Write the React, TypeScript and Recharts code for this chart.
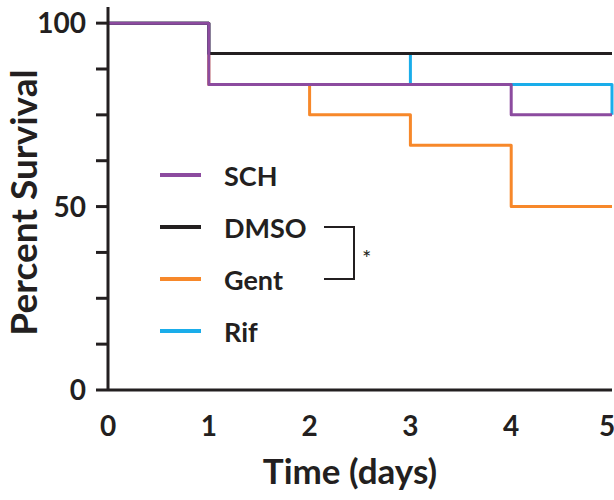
import { Line, LineChart, XAxis, YAxis } from 'recharts'

const days = [0, 1, 2, 3, 4, 5]
const sch = [100, 83.3, 83.3, 83.3, 75, 75]
const dmso = [100, 91.7, 91.7, 91.7, 91.7, 91.7]
const gent = [100, 83.3, 75, 66.7, 50, 50]
const rif = [100, 91.7, 91.7, 83.3, 83.3, 75]

const yTicks = [0, 12.5, 25, 37.5, 50, 62.5, 75, 87.5, 100]
const yLabelled = [0, 50, 100]

const INK = '#231f20'
const FONT = 'Lato, "Open Sans", sans-serif'

// legend order (top to bottom); draw order differs so purple sits on top
const legendItems = [
  { key: 'sch', name: 'SCH', color: '#8c4b9f' },
  { key: 'dmso', name: 'DMSO', color: INK },
  { key: 'gent', name: 'Gent', color: '#f7882a' },
  { key: 'rif', name: 'Rif', color: '#1aadea' },
]
const drawOrder = ['gent', 'rif', 'dmso', 'sch']

const data = days.map((d, i) => ({ day: d, sch: sch[i], dmso: dmso[i], gent: gent[i], rif: rif[i] }))

const ROW = 52

function SurvivalLegend() {
  // bracket joins the DMSO and Gent rows, with the significance star
  const yA = ROW * 1 + ROW / 2
  const yB = ROW * 2 + ROW / 2
  return (
    <div style={{ position: 'absolute', left: 160, top: 149, fontFamily: FONT }}>
      {legendItems.map((item) => (
        <div key={item.key} style={{ display: 'flex', alignItems: 'center', height: ROW }}>
          <div style={{ width: 41, height: 4, background: item.color, marginRight: 23 }} />
          <span style={{ fontSize: 27, fontWeight: 700, color: INK, lineHeight: 1 }}>{item.name}</span>
        </div>
      ))}
      <svg width={240} height={ROW * 4} style={{ position: 'absolute', left: 0, top: 0, overflow: 'visible' }}>
        <polyline
          points={`164,${yA} 194,${yA} 194,${yB} 164,${yB}`}
          fill="none"
          stroke={INK}
          strokeWidth={2}
        />
        <text x={202} y={yA + (yB - yA) / 2 + 13} fontSize={22} fill={INK} fontFamily={FONT}>
          *
        </text>
      </svg>
    </div>
  )
}

export default function App() {
  return (
    <div style={{ position: 'absolute', left: 0, top: 0, width: 614, height: 500, background: '#fff' }}>
      <LineChart width={614} height={500} data={data} margin={{ top: 7, right: 2, bottom: 0, left: 0 }}>
        <XAxis
          dataKey="day"
          type="number"
          domain={[0, 5]}
          ticks={days}
          height={110}
          tickLine={false}
          tickSize={0}
          tickMargin={26}
          axisLine={{ stroke: INK, strokeWidth: 3 }}
          tick={{ fill: INK, fontSize: 28, fontWeight: 700, fontFamily: FONT }}
          label={{
            content: ({ viewBox }: any) => (
              <text
                x={viewBox.x + viewBox.width / 2 - 10}
                y={viewBox.y + 94}
                textAnchor="middle"
                fontSize={35}
                fontWeight={700}
                fill={INK}
                fontFamily={FONT}
              >
                Time (days)
              </text>
            ),
          }}
        />
        <YAxis
          type="number"
          domain={[0, 104.4]}
          ticks={yTicks}
          interval={0}
          width={108}
          tickSize={12}
          tickMargin={10}
          tickLine={{ stroke: INK, strokeWidth: 3 }}
          axisLine={{ stroke: INK, strokeWidth: 3 }}
          tickFormatter={(v: number) => (yLabelled.includes(v) ? String(v) : '')}
          tick={{ fill: INK, fontSize: 28, fontWeight: 700, fontFamily: FONT }}
          label={{
            content: ({ viewBox }: any) => {
              const cx = 22
              const cy = viewBox.y + viewBox.height / 2 + 4
              return (
                <text
                  x={cx}
                  y={cy}
                  transform={`rotate(-90 ${cx} ${cy})`}
                  textAnchor="middle"
                  dominantBaseline="central"
                  fontSize={37}
                  fontWeight={700}
                  fill={INK}
                  fontFamily={FONT}
                >
                  Percent Survival
                </text>
              )
            },
          }}
        />
        {drawOrder.map((key) => {
          const item = legendItems.find((s) => s.key === key)!
          return (
            <Line
              key={key}
              type="stepAfter"
              dataKey={key}
              name={item.name}
              stroke={item.color}
              strokeWidth={3}
              strokeLinejoin="round"
              dot={false}
              activeDot={false}
              isAnimationActive={false}
            />
          )
        })}
      </LineChart>
      <SurvivalLegend />
    </div>
  )
}
